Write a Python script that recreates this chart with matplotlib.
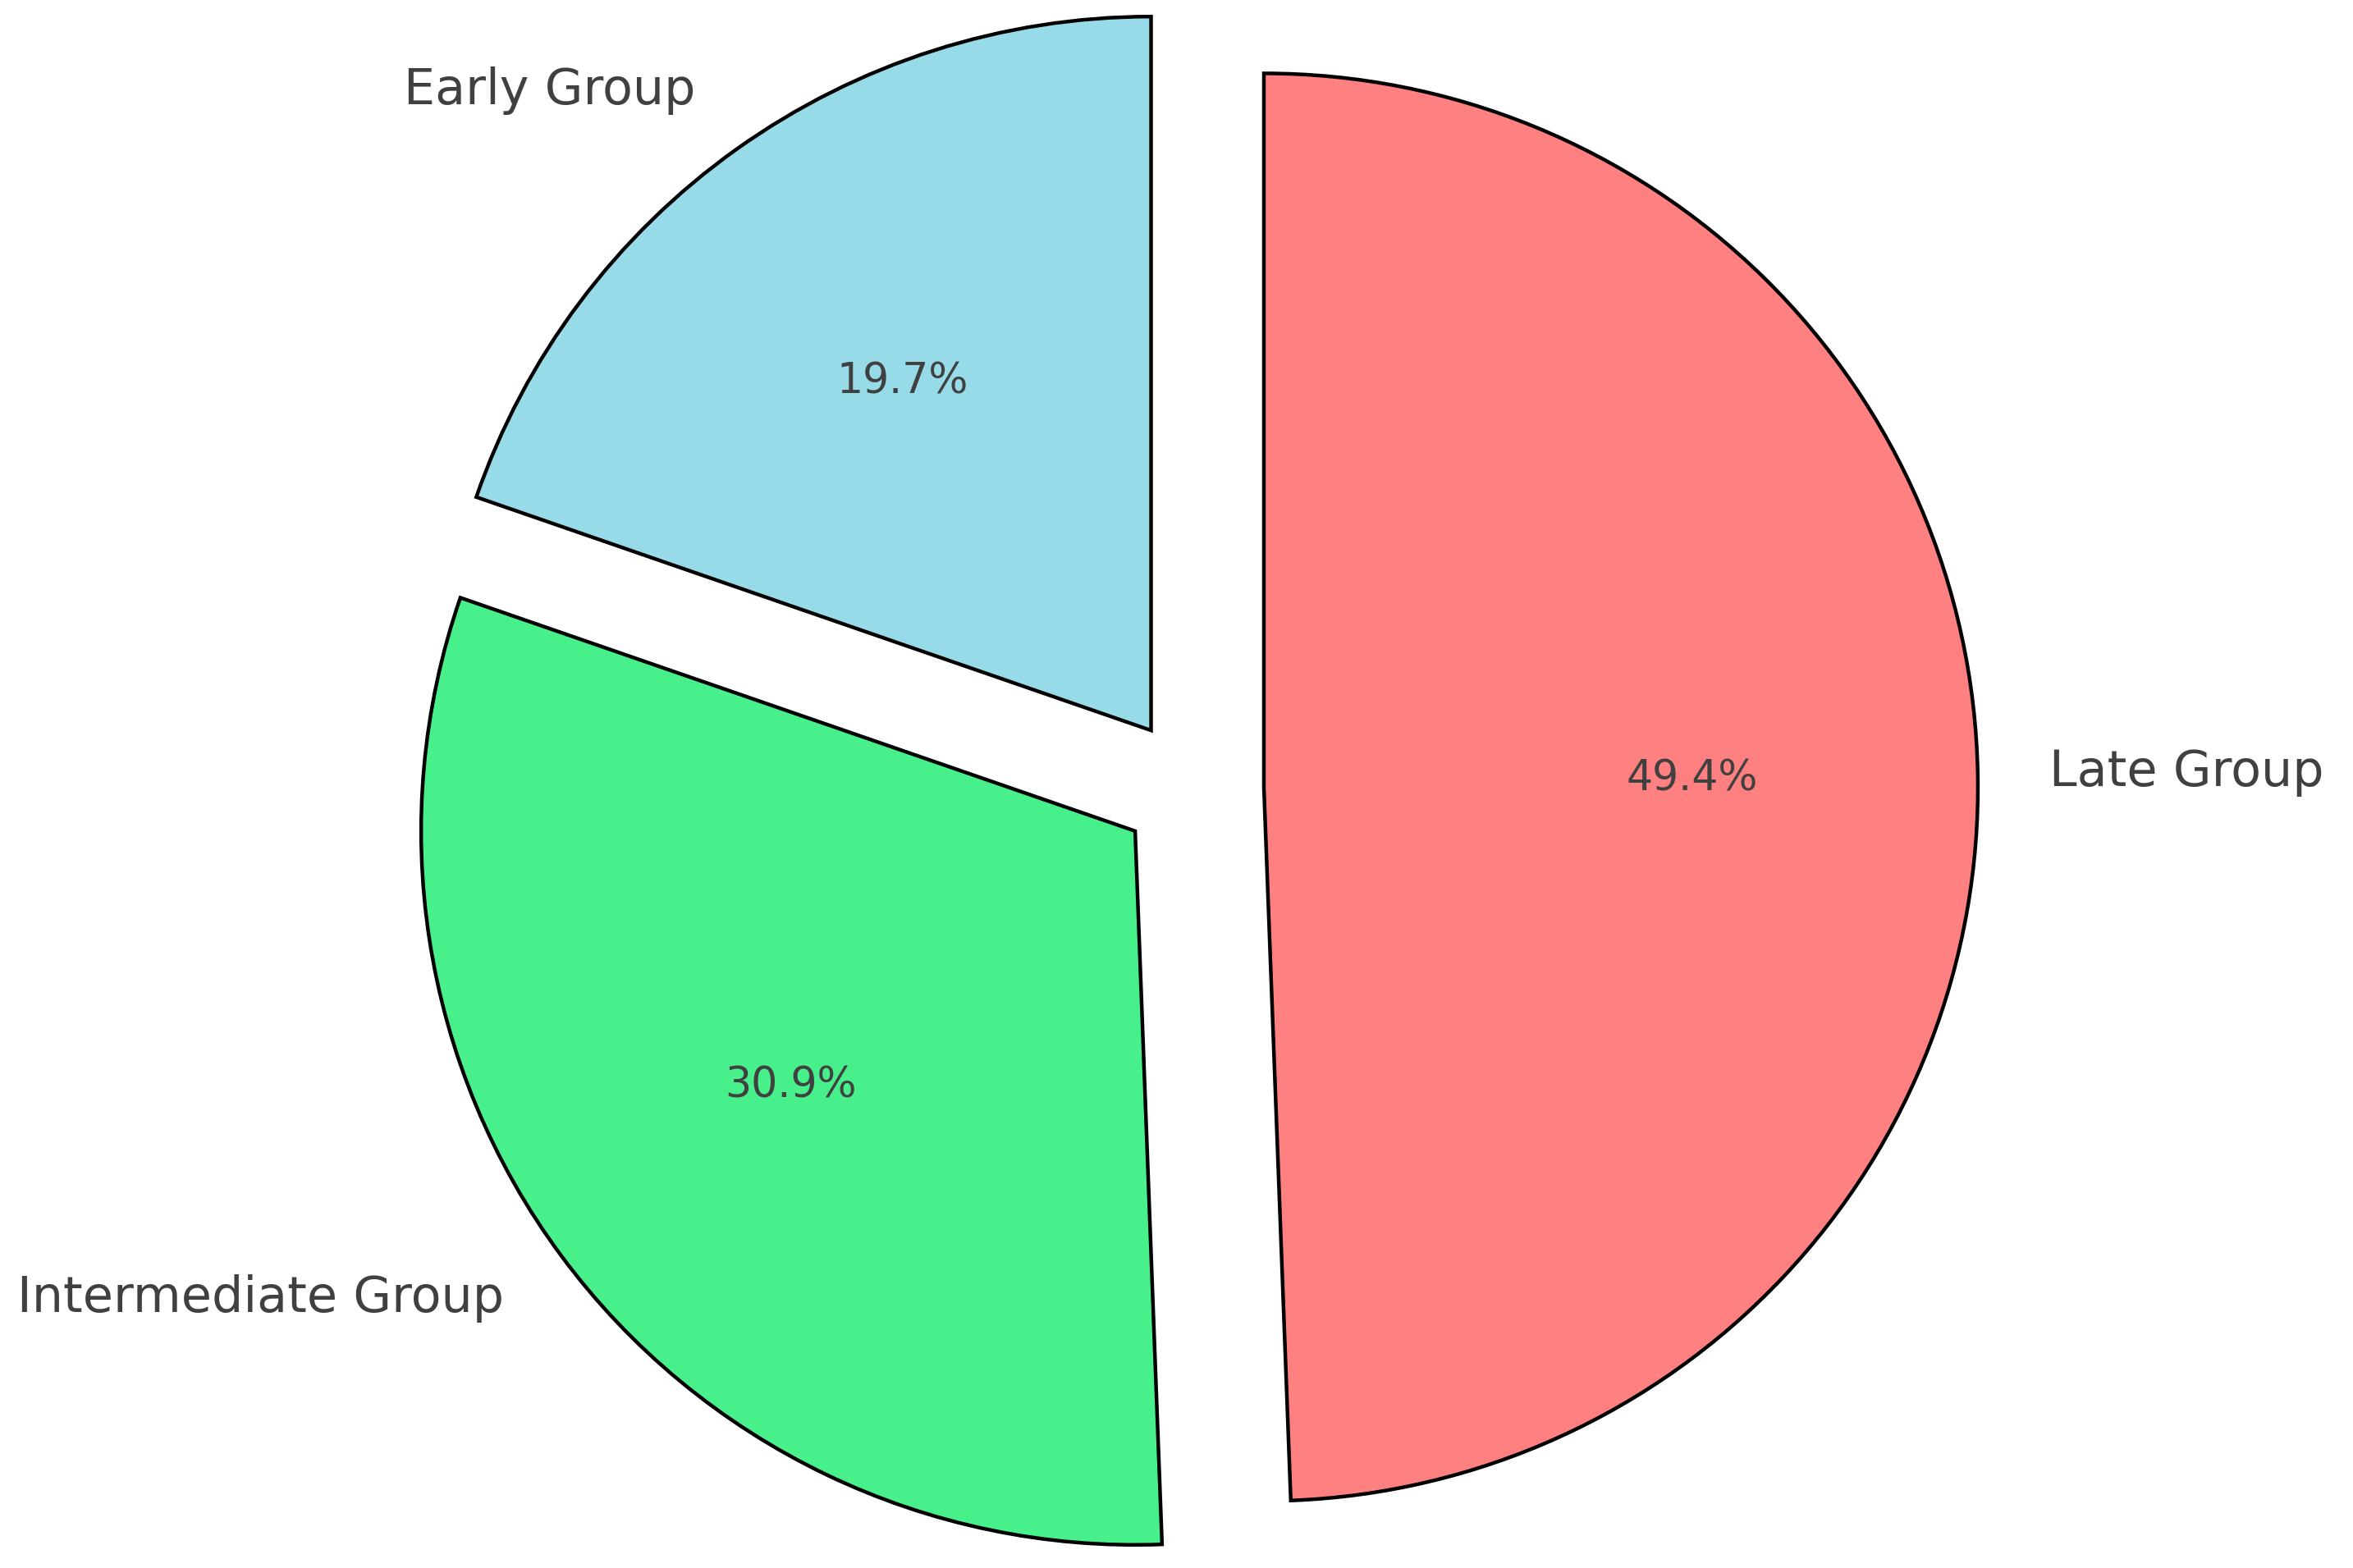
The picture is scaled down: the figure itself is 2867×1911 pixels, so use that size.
import matplotlib.pyplot as plt

labels = ["Early Group", "Intermediate Group", "Late Group"]
shares = [19.7, 30.9, 49.4]
colors = ["#97DBE8", "#48F08B", "#FF8080"]
explode = [0.1, 0.1, 0.1]

fig = plt.figure(figsize=(14.335, 9.555), dpi=200)
ax = fig.add_axes([0.1275, -0.072, 0.7586, 1.1382])

wedges, texts, autotexts = ax.pie(
    shares,
    labels=labels,
    colors=colors,
    explode=explode,
    autopct="%1.1f%%",
    startangle=90,
    wedgeprops={"edgecolor": "black", "linewidth": 1.6},
    textprops={"color": "#404040"},
)
for t in texts:
    t.set_fontsize(21.75)
for t in autotexts:
    t.set_fontsize(18.2)

ax.set_xlim(-1.25, 1.25)
ax.set_ylim(-1.25, 1.25)
ax.set_aspect("equal")

fig.savefig("out.png", dpi=200)
